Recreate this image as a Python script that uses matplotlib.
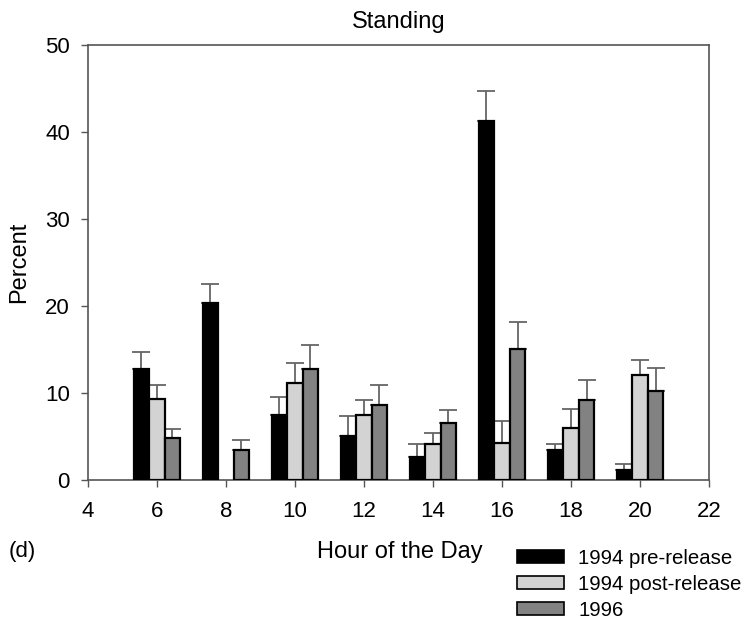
import matplotlib.pyplot as plt
import matplotlib as mpl
import numpy as np
from matplotlib.patches import Patch

mpl.rcParams['font.family'] = ['Liberation Sans', 'DejaVu Sans']
mpl.rcParams['font.size'] = 16

hours = [6, 8, 10, 12, 14, 16, 18, 20]
labels = ['1994 pre-release', '1994 post-release', '1996']

pre94 = [12.7, 20.3, 7.5, 5.1, 2.6, 41.2, 3.4, 1.1]
pre94_err = [2.0, 2.2, 2.0, 2.2, 1.5, 3.5, 0.7, 0.7]
post94 = [9.3, 0.0, 11.1, 7.5, 4.1, 4.3, 6.0, 12.1]
post94_err = [1.6, 0.0, 2.3, 1.7, 1.3, 2.5, 2.2, 1.7]
y96 = [4.8, 3.4, 12.8, 8.6, 6.55, 15.1, 9.2, 10.2]
y96_err = [1.1, 1.2, 2.7, 2.3, 1.45, 3.1, 2.3, 2.7]

series = [(pre94, pre94_err), (post94, post94_err), (y96, y96_err)]
colors = ['#000000', '#d3d3d3', '#828282']

fig = plt.figure(figsize=(7.45, 6.23), dpi=100)
ax = fig.add_axes([0.118, 0.2295, 0.8337, 0.6985])

w = 0.45
x = np.array(hours, dtype=float)
for i, (vals, errs) in enumerate(series):
    xs = x + (i - 1) * w
    vals = np.array(vals)
    errs = np.array(errs)
    mask = vals > 0
    ax.bar(xs[mask], vals[mask], width=w, color=colors[i], edgecolor='black',
           linewidth=1.6, zorder=3)
    ax.errorbar(xs[mask], vals[mask], yerr=[np.zeros(mask.sum()), errs[mask]],
                fmt='none', ecolor='#666666', elinewidth=1.3, capsize=6.5,
                capthick=1.3, zorder=2)

ax.set_xlim(4, 22)
ax.set_ylim(0, 50)
ax.set_xticks(range(4, 23, 2))
ax.set_yticks(range(0, 51, 10))
for s in ax.spines.values():
    s.set_color('#555555')
    s.set_linewidth(1.2)
ax.tick_params(direction='out', length=5, width=1, color='#555555')
ax.tick_params(axis='x', pad=10)
ax.tick_params(axis='y', pad=8)
ax.set_ylabel('Percent', fontsize=17, labelpad=11)
ax.set_title('Standing', fontsize=17, pad=12)

fig.text(0.537, 0.114, 'Hour of the Day', fontsize=17, ha='center', va='center')
fig.text(0.011, 0.114, '(d)', fontsize=16, ha='left', va='center')

handles = [Patch(facecolor=c, edgecolor='black', linewidth=1.2) for c in colors]
fig.legend(handles, labels, loc='upper left', bbox_to_anchor=(0.694, 0.119),
           frameon=False, fontsize=14.7, handlelength=2.3, handleheight=0.6,
           labelspacing=0.35, handletextpad=0.7, borderpad=0, borderaxespad=0)

fig.savefig('out.png', dpi=100)
